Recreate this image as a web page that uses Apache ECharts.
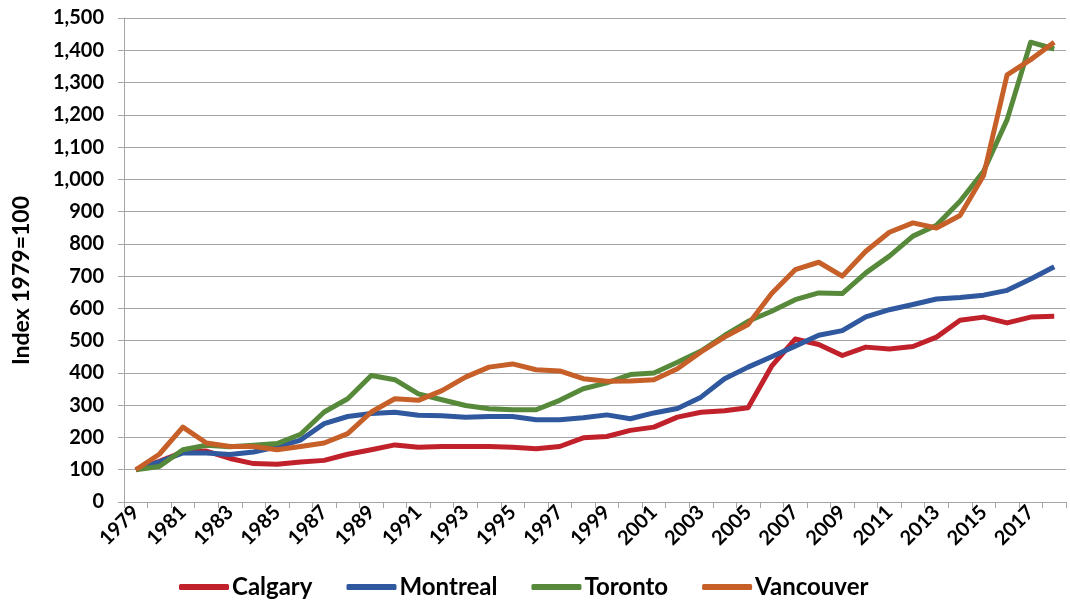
<!DOCTYPE html>
<html>
<head>
<meta charset="utf-8">
<script src="https://cdn.jsdelivr.net/npm/echarts@6/dist/echarts.min.js"></script>
<style>
  html, body { margin: 0; padding: 0; background: #fff; }
  #chart { width: 1070px; height: 601px; }
</style>
</head>
<body>
<div id="chart"></div>
<script>
// 1979 .. 2018
var years = [];
for (var y = 1979; y <= 2018; y++) { years.push(String(y)); }

var calgary = [100, 126, 155, 158, 135, 119, 117, 124, 129, 148,
	162, 177, 170, 172, 172, 172, 170, 165, 172, 199,
	203, 222, 232, 263, 278, 283, 292, 421, 505, 488,
	454, 480, 474, 482, 511, 563, 573, 555, 573, 576];
var montreal = [100, 124, 152, 152, 147, 155, 171, 192, 243, 265,
	274, 278, 269, 267, 263, 265, 265, 255, 255, 261,
	270, 258, 276, 290, 325, 382, 418, 450, 483, 517,
	531, 574, 596, 612, 629, 634, 641, 656, 691, 729];
var toronto = [100, 110, 162, 176, 171, 176, 181, 210, 279, 320,
	392, 379, 335, 317, 299, 289, 286, 286, 315, 351,
	369, 395, 400, 433, 468, 516, 560, 591, 627, 648,
	646, 710, 762, 824, 858, 932, 1025, 1185, 1425, 1404];
var vancouver = [100, 148, 232, 183, 172, 172, 162, 172, 183, 212,
	279, 320, 315, 345, 387, 418, 428, 410, 406, 382,
	374, 375, 379, 413, 465, 511, 550, 646, 720, 743,
	700, 777, 836, 865, 849, 888, 1012, 1324, 1371, 1425];

var names = ['Calgary', 'Montreal', 'Toronto', 'Vancouver'];
var colors = ['#C0212B', '#2F589E', '#57893A', '#C65F28'];
var values = [calgary, montreal, toronto, vancouver];

var font = 'Lato, "Open Sans", sans-serif';

var series = [];
for (var i = 0; i < names.length; i++) {
	series.push({
		name: names[i],
		type: 'line',
		data: values[i],
		symbol: 'none',
		lineStyle: { width: 5, color: colors[i], join: 'round' },
		itemStyle: { color: colors[i] }
	});
}

var chartObj = echarts.init(document.getElementById('chart'));
var option = {
	animation: false,
	textStyle: { fontFamily: font },
	grid: { left: 124, right: 4, top: 18, bottom: 99 },
	graphic: [{
		type: 'text',
		left: 10,
		top: 196,
		rotation: Math.PI / 2,
		style: { text: 'Index 1979=100', fontSize: 23, fontWeight: 'bold', fill: '#000', fontFamily: font }
	}],
	legend: {
		data: names,
		top: 570,
		left: 174,
		icon: 'roundRect',
		itemWidth: 50,
		itemHeight: 6,
		itemGap: 34,
		textStyle: { fontSize: 24, fontWeight: 'bold', color: '#000', fontFamily: font, padding: [0, 0, 0, -2] }
	},
	xAxis: {
		type: 'category',
		data: years,
		boundaryGap: true,
		axisLine: { lineStyle: { color: '#a6a6a6', width: 1 } },
		axisTick: { show: true, interval: 0, length: 6, lineStyle: { color: '#a6a6a6' } },
		axisLabel: {
			interval: 1,
			rotate: 45,
			fontSize: 20,
			fontWeight: 'bold',
			color: '#000',
			margin: 7
		}
	},
	yAxis: {
		type: 'value',
		min: 0,
		max: 1500,
		interval: 100,
		axisLine: { show: true, lineStyle: { color: '#a6a6a6', width: 1 } },
		axisTick: { show: true, length: 6, lineStyle: { color: '#a6a6a6' } },
		axisLabel: {
			fontSize: 20,
			fontWeight: 'bold',
			color: '#000',
			margin: 20,
			formatter: function (v) { return v.toLocaleString('en-US'); }
		},
		splitLine: { lineStyle: { color: '#a6a6a6', width: 1 } }
	},
	series: series
};
chartObj.setOption(option);
</script>
</body>
</html>
